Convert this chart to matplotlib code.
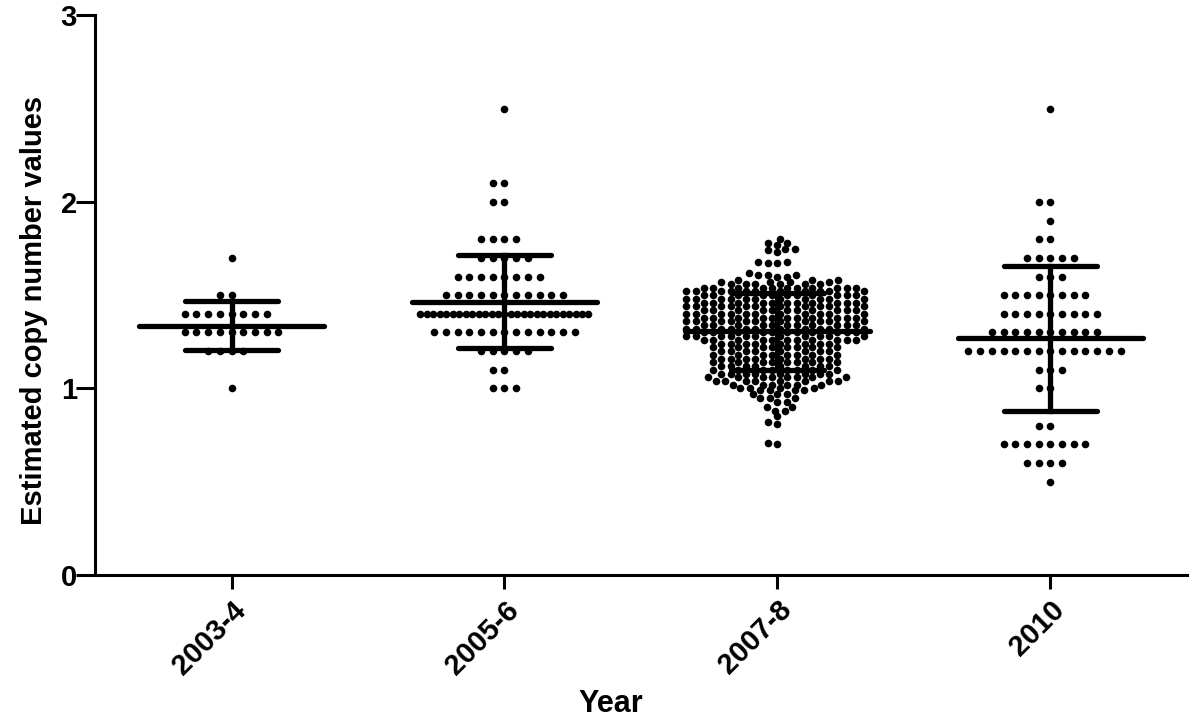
import matplotlib
matplotlib.use("Agg")
import matplotlib.pyplot as plt
import numpy as np

plt.rcParams["font.family"] = ["Liberation Sans", "DejaVu Sans"]
plt.rcParams["font.weight"] = "bold"

# ----------------------------- data -----------------------------
CATEGORIES = ["2003-4", "2005-6", "2007-8", "2010"]

# value levels and the number of samples at each level
LEVELS_2003 = [1.7, 1.5, 1.4, 1.3, 1.2, 1.0]
COUNTS_2003 = [1, 2, 8, 9, 4, 1]

LEVELS_2005 = [2.5, 2.1, 2.0, 1.8, 1.7, 1.6, 1.5, 1.4, 1.3, 1.2, 1.1, 1.0]
COUNTS_2005 = [1, 2, 2, 4, 5, 8, 11, 27, 13, 5, 2, 3]

LEVELS_2007 = [0.70, 0.71, 0.81, 0.82, 0.85, 0.88, 0.90, 0.93, 0.95, 0.97, 0.99, 1.00, 1.02,
               1.04, 1.06, 1.08, 1.10, 1.12, 1.14, 1.16, 1.18, 1.20, 1.22, 1.24,
               1.26, 1.28, 1.30, 1.32, 1.34, 1.36, 1.38, 1.40, 1.42, 1.44, 1.46, 1.48, 1.50, 1.52, 1.54,
               1.56, 1.57, 1.58, 1.60, 1.61, 1.62, 1.67, 1.68, 1.73, 1.74, 1.75, 1.77, 1.78, 1.80]
COUNTS_2007 = [1, 1, 1, 1, 1, 2, 2, 2, 3, 3, 4, 4, 6,
               8, 8, 8, 8, 8, 8, 8, 8, 8, 8, 8,
               11, 11, 11, 11, 11, 11, 11, 11, 11, 11, 11, 11, 11, 11, 11,
               6, 4, 3, 2, 3, 1, 2, 2, 1, 1, 2, 1, 2, 1]

LEVELS_2010 = [2.5, 2.0, 1.9, 1.8, 1.7, 1.6, 1.5, 1.4, 1.3, 1.2, 1.1, 1.0, 0.8, 0.7, 0.6, 0.5]
COUNTS_2010 = [1, 2, 1, 2, 5, 3, 8, 9, 10, 14, 3, 2, 2, 8, 4, 1]

GROUPS = [
    (LEVELS_2003, COUNTS_2003),
    (LEVELS_2005, COUNTS_2005),
    (LEVELS_2007, COUNTS_2007),
    (LEVELS_2010, COUNTS_2010),
]

DOT_SPACING_PX = 11.7   # horizontal spacing of dots sharing a value
DOT_HEIGHT_PX = 5.8     # vertical reach of a dot for the packing
ROW_MAX_HALF_PX = 84    # single rows wider than this are squeezed
GROUP_MAX_HALF_PX = 91  # whole swarm never wider than this
MEAN_HALF = 0.34
SD_HALF = 0.17


def swarm_offsets(y_px):
    """Beeswarm placement in pixel units, ellipse collision."""
    order = np.argsort(y_px, kind="stable")
    xs = np.zeros(len(y_px))
    placed = []
    for i in order:
        y = y_px[i]
        near = [(px, py) for px, py in placed if abs(py - y) < DOT_HEIGHT_PX]
        cands = [0.0]
        for px, py in near:
            dx = DOT_SPACING_PX * np.sqrt(max(0.0, 1 - ((py - y) / DOT_HEIGHT_PX) ** 2))
            cands += [px - dx, px + dx]
        cands = sorted(set(round(c, 6) for c in cands), key=lambda c: (abs(c), c))
        for c in cands:
            ok = all(((c - px) / DOT_SPACING_PX) ** 2 + ((y - py) / DOT_HEIGHT_PX) ** 2 >= 1 - 1e-6
                     for px, py in near)
            if ok:
                xs[i] = c
                placed.append((c, y))
                break
    # squeeze rows that got too wide
    for y in np.unique(y_px):
        sel = y_px == y
        w = np.max(np.abs(xs[sel]))
        if w > ROW_MAX_HALF_PX and np.sum(sel) > 14:
            xs[sel] *= ROW_MAX_HALF_PX / w
    w = np.max(np.abs(xs))
    if w > GROUP_MAX_HALF_PX:
        xs *= GROUP_MAX_HALF_PX / w
    return xs


fig = plt.figure(figsize=(12, 7.27), dpi=100)
ax = fig.add_axes([0.0792, 0.209, 0.9098, 0.770])
ax.set_xlim(-0.5, 3.5)
ax.set_ylim(0, 3)

bbox = ax.get_window_extent()
px_per_x = bbox.width / 4.0
px_per_y = bbox.height / 3.0

for gi, (levels, counts) in enumerate(GROUPS):
    vals = np.repeat(np.array(levels, dtype=float), counts)
    offs = swarm_offsets(vals * px_per_y)
    ax.scatter(gi + offs / px_per_x, vals, s=30, color="black", linewidths=0, zorder=3)

    mean = vals.mean()
    sd = vals.std(ddof=1)
    ax.plot([gi - MEAN_HALF, gi + MEAN_HALF], [mean, mean], color="black", lw=3.8,
            solid_capstyle="round", zorder=4)
    for v in (mean - sd, mean + sd):
        ax.plot([gi - SD_HALF, gi + SD_HALF], [v, v], color="black", lw=3.8,
                solid_capstyle="round", zorder=4)
    ax.plot([gi, gi], [mean - sd, mean + sd], color="black", lw=3.8, zorder=4)

for side in ("top", "right"):
    ax.spines[side].set_visible(False)
for side in ("left", "bottom"):
    ax.spines[side].set_linewidth(2.2)

ax.set_yticks([0, 1, 2, 3])
ax.set_xticks(range(len(CATEGORIES)))
ax.set_xticklabels(CATEGORIES, rotation=45, ha="right", rotation_mode="anchor")
ax.tick_params(axis="both", width=2.2, labelsize=21)
ax.tick_params(axis="x", length=10, pad=5)
ax.tick_params(axis="y", length=14, pad=-1)

ax.set_ylabel("Estimated copy number values", fontsize=21, fontweight="bold")
ax.yaxis.set_label_coords(-0.043, 0.473)
ax.set_xlabel("Year", fontsize=22, fontweight="bold")
ax.xaxis.set_label_coords(0.4725, -0.203)

fig.savefig("out.png", dpi=100)
